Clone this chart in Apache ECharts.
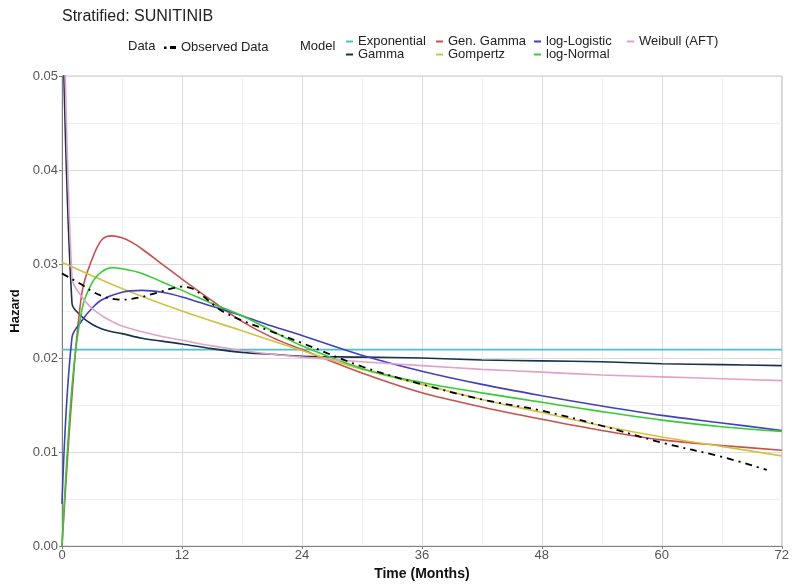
<!DOCTYPE html>
<html><head><meta charset="utf-8">
<script src="https://cdn.jsdelivr.net/npm/echarts@6/dist/echarts.min.js"></script>
<style>html,body{margin:0;padding:0;background:#fff}#c{width:792px;height:586px}</style>
</head><body><div id="c"></div>
<script>
// ---- data ----
const xTicks = [0, 12, 24, 36, 48, 60, 72];
const yTicks = [0.00, 0.01, 0.02, 0.03, 0.04, 0.05];

const obsT = [0,1,2,3,4,5,6,7,8,9,10,11,12,13,14,15,16,18,21,24,30,36,42,48,54,60,66,70.5];
const obsH = [0.0290,0.0284,0.0278,0.0271,0.0266,0.0263,0.0262,0.0263,0.0265,0.0268,0.0271,0.0274,0.0276,0.0274,0.0267,0.0258,0.0250,0.0240,0.0228,0.0216,0.0191,0.0172,0.0156,0.0144,0.0128,0.0110,0.0095,0.0081];

const expT = [0, 72];
const expH = [0.0209, 0.0209];

const gamT = [0,1,2,3,4,5,6,8,10,12,15,18,21,24,30,36,42,48,54,60,66,72];
const gamH = [0.0600,0.0258,0.0244,0.0236,0.0231,0.0228,0.0226,0.0221,0.0218,0.0215,0.0210,0.0206,0.0204,0.0202,0.0201,0.0200,0.0198,0.0197,0.0196,0.0194,0.0193,0.0192];

const ggT = [0,1,2,3,4,5,6,7,8,10,12,15,18,21,24,30,36,42,48,54,60,66,72];
const ggH = [0.0000,0.0160,0.0270,0.0305,0.0326,0.0330,0.0328,0.0323,0.0316,0.0300,0.0284,0.0261,0.0239,0.0222,0.0209,0.0184,0.0163,0.0148,0.0135,0.0123,0.0113,0.0107,0.0102];

const gompT = [0,6,12,18,24,30,36,42,48,54,60,66,72];
const gompH = [0.0302,0.0274,0.0250,0.0229,0.0208,0.0188,0.0172,0.0156,0.0142,0.0128,0.0116,0.0106,0.0096];

const llT = [0,1,2,3,4,6,8,10,12,15,18,21,24,30,36,42,48,54,60,66,72];
const llH = [0.0045,0.0222,0.0240,0.0253,0.0262,0.0270,0.0272,0.0270,0.0265,0.0255,0.0245,0.0234,0.0224,0.0203,0.0186,0.0172,0.0160,0.0149,0.0139,0.0131,0.0123];

const lnT = [0,1,2,3,4,5,6,8,10,12,15,18,21,24,30,36,42,48,54,60,66,72];
const lnH = [0.0000,0.0170,0.0252,0.0280,0.0292,0.0296,0.0295,0.0290,0.0281,0.0272,0.0258,0.0245,0.0229,0.0213,0.0189,0.0174,0.0163,0.0153,0.0143,0.0134,0.0127,0.0122];

const wbT = [0,1,2,3,4,5,6,8,10,12,15,18,21,24,30,36,42,48,54,60,66,72];
const wbH = [0.0680,0.0285,0.0265,0.0253,0.0245,0.0239,0.0234,0.0228,0.0223,0.0219,0.0213,0.0208,0.0204,0.0201,0.0196,0.0192,0.0188,0.0185,0.0182,0.0180,0.0178,0.0176];

const zip = (t, h) => t.map((v, i) => [v, h[i]]);

const models = [
  {name: 'Exponential', t: expT, h: expH, color: '#4dbfcf'},
  {name: 'Gamma', t: gamT, h: gamH, color: '#17324d'},
  {name: 'Gen. Gamma', t: ggT, h: ggH, color: '#c8504e'},
  {name: 'Gompertz', t: gompT, h: gompH, color: '#d2c23e'},
  {name: 'log-Logistic', t: llT, h: llH, color: '#4040c0'},
  {name: 'log-Normal', t: lnT, h: lnH, color: '#33cc33'},
  {name: 'Weibull (AFT)', t: wbT, h: wbH, color: '#e0a2c8'}
];

const series = models.map(m => ({
  name: m.name, type: 'line', data: zip(m.t, m.h), showSymbol: false, symbol: 'none',
  smooth: 0.35, clip: true,
  lineStyle: {color: m.color, width: 1.6}, itemStyle: {color: m.color}
}));
series.push({
  name: 'Observed Data', type: 'line', data: zip(obsT, obsH), showSymbol: false, symbol: 'none',
  smooth: 0.35, clip: true, z: 5,
  lineStyle: {color: '#000', width: 1.8, type: [7, 5, 2, 5]}, itemStyle: {color: '#000'}
});

const FF = 'Liberation Sans, Arial, sans-serif';
const FN = 'Liberation Sans Narrow, Arial Narrow, sans-serif';
const legText = {fontSize: 13, lineHeight: 12, color: '#222', fontFamily: FF};
function modelLegend(names, left) {
  return {
    data: names, left: left, top: 35, orient: 'vertical', itemGap: 0,
    itemWidth: 7, itemHeight: 12, icon: 'path://M0,5 h7 v2 h-7 z', textStyle: legText,
    padding: 0, selectedMode: false
  };
}

const chart = echarts.init(document.getElementById('c'));
chart.setOption({
  animation: false,
  backgroundColor: '#fff',
  title: {text: 'Stratified: SUNITINIB', left: 57, top: 4,
    textStyle: {fontSize: 16, fontWeight: 'normal', color: '#222', fontFamily: FF}},
  legend: [
    {data: ['Observed Data'], left: 164, top: 41, itemWidth: 12, itemHeight: 6, itemGap: 0, padding: 0,
      icon: 'path://M0,2 h2.5 v2.5 h-2.5 z M6,1.6 h6 v3 h-6 z', textStyle: legText, selectedMode: false},
    modelLegend(['Exponential', 'Gamma'], 346),
    modelLegend(['Gen. Gamma', 'Gompertz'], 436),
    modelLegend(['log-Logistic', 'log-Normal'], 534),
    modelLegend(['Weibull (AFT)'], 627)
  ],
  graphic: [
    {type: 'text', left: 128, top: 40, style: {text: 'Data', fontSize: 13, fill: '#222', fontFamily: FF}},
    {type: 'text', left: 300, top: 40, style: {text: 'Model', fontSize: 13, fill: '#222', fontFamily: FF}}
  ],
  grid: {left: 62, right: 6, top: 76, bottom: 32, show: true, borderColor: '#c8c8c8', borderWidth: 1},
  xAxis: {
    type: 'value', min: 0, max: 72, interval: 12,
    name: 'Time (Months)', nameLocation: 'middle', nameGap: 16,
    nameTextStyle: {fontSize: 14, fontWeight: 'bold', color: '#111', fontFamily: FN},
    axisLine: {show: true, lineStyle: {color: '#808080', width: 1}},
    axisTick: {show: true, length: 3, lineStyle: {color: '#808080'}},
    axisLabel: {fontSize: 13, color: '#555', margin: 3, fontFamily: FN,
      customValues: xTicks, formatter: v => String(v)},
    splitLine: {show: true, lineStyle: {color: '#dcdcdc', width: 1}},
    minorTick: {show: false, splitNumber: 2},
    minorSplitLine: {show: true, lineStyle: {color: '#efefef', width: 1}}
  },
  yAxis: {
    type: 'value', min: 0, max: 0.05, interval: 0.01,
    name: 'Hazard', nameLocation: 'middle', nameGap: 36, nameRotate: 90,
    nameTextStyle: {fontSize: 13, fontWeight: 'bold', color: '#111', fontFamily: FN},
    axisLine: {show: true, lineStyle: {color: '#808080', width: 1}},
    axisTick: {show: true, length: 3, lineStyle: {color: '#808080'}},
    axisLabel: {fontSize: 13, color: '#555', margin: 4, fontFamily: FN,
      formatter: v => v.toFixed(2)},
    splitLine: {show: true, lineStyle: {color: '#dcdcdc', width: 1}},
    minorTick: {show: false, splitNumber: 2},
    minorSplitLine: {show: true, lineStyle: {color: '#efefef', width: 1}}
  },
  series: series
});
</script></body></html>
